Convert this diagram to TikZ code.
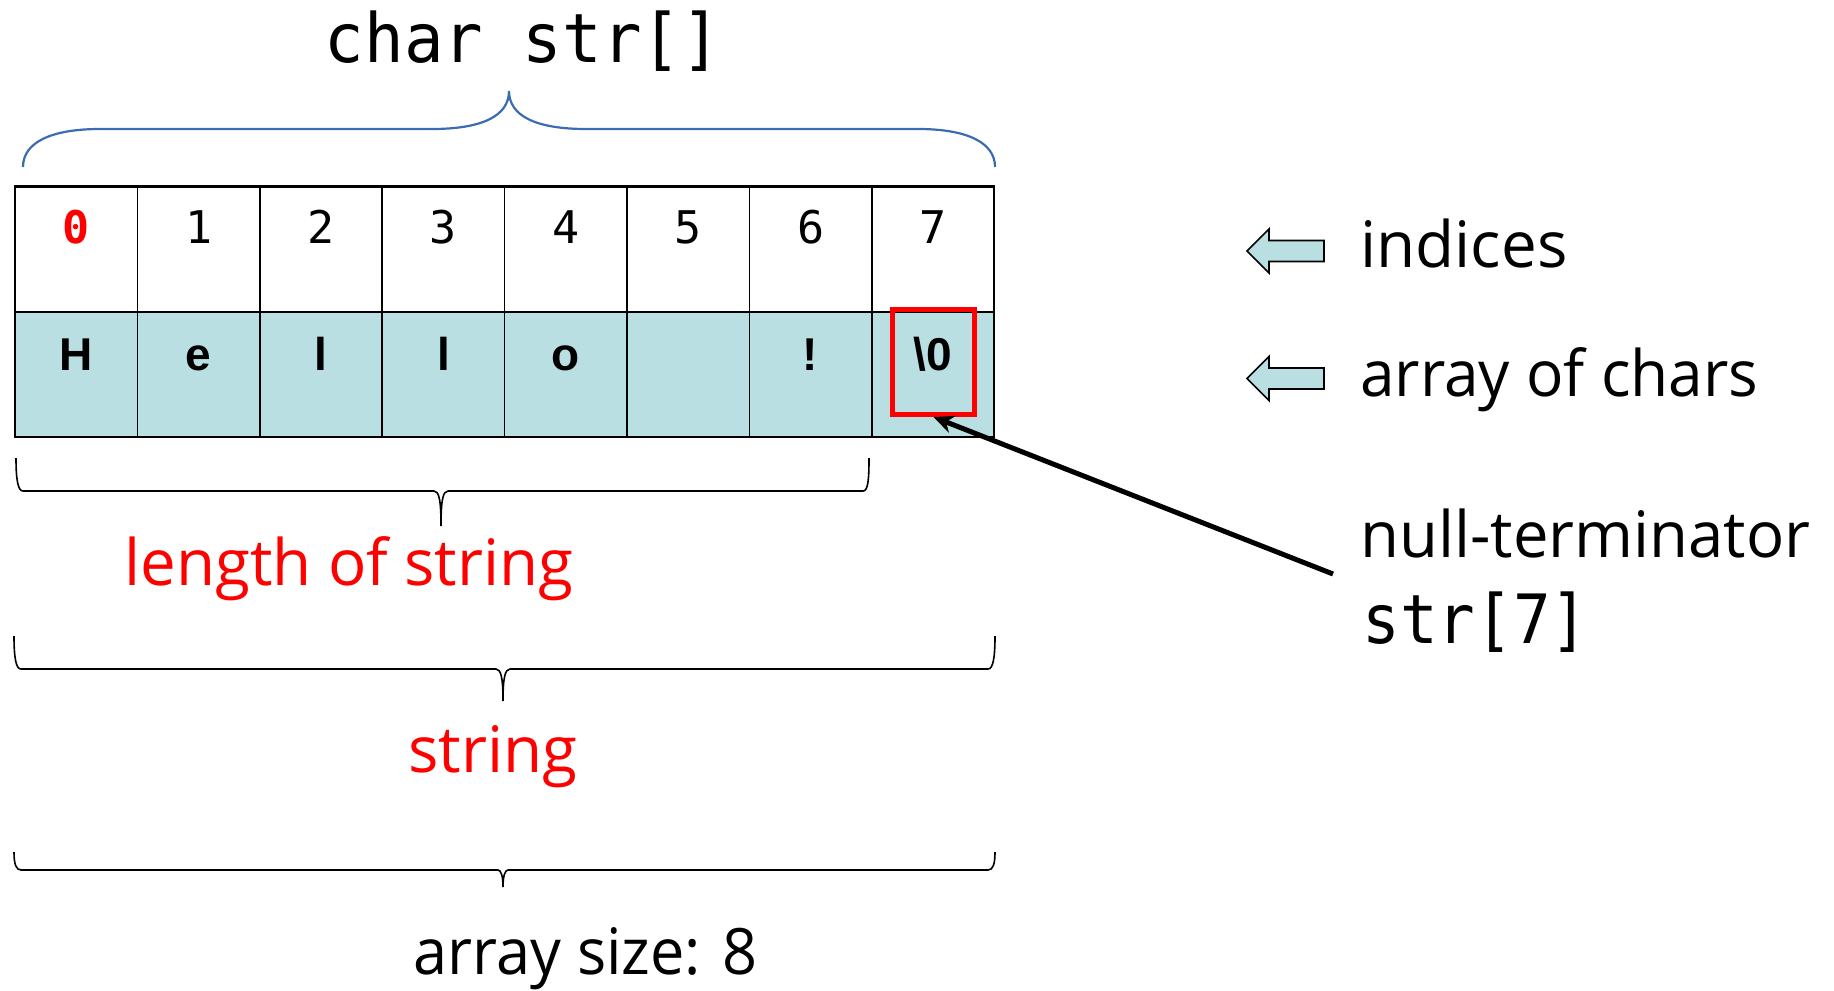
\documentclass[tikz,border=0pt]{standalone}
\usepackage{fontspec}
\usepackage{graphicx}
\usetikzlibrary{arrows.meta}
\setmainfont{Open Sans}
\newfontfamily\codefont{DejaVu Sans Mono}
\newfontfamily\cellfont{Liberation Sans}
\definecolor{cellblue}{RGB}{186,223,227}
\definecolor{braceblue}{RGB}{59,108,178}
\definecolor{hlred}{RGB}{255,0,0}
% one drawing unit = 0.5pt
\newlength{\pxunit}\setlength{\pxunit}{0.5pt}
% set a text to a given width, keeping its natural height
\newcommand{\fitwidth}[2]{\resizebox{#1\pxunit}{\height}{#2}}

\tikzset{
  cellbox/.style={draw=black, line width=0.8pt, rectangle, inner sep=0pt,
    minimum width=61.2pt, minimum height=62.5pt},
  charcell/.style={cellbox, fill=cellblue},
  idxtext/.style={inner sep=0pt, anchor=base,
    font=\codefont\fontsize{22.5pt}{26pt}\selectfont},
  chartext/.style={inner sep=0pt, anchor=base,
    font=\cellfont\bfseries\fontsize{23pt}{27pt}\selectfont},
  lbl/.style={inner sep=0pt, anchor=base west,
    font=\fontsize{32pt}{38pt}\selectfont},
  redlbl/.style={lbl, text=hlred},
  codelbl/.style={inner sep=0pt, anchor=base west,
    font=\codefont\fontsize{34pt}{40pt}\selectfont},
  brace/.style={draw=black, line width=0.8pt},
  topbrace/.style={draw=braceblue, line width=1.1pt},
  markbox/.style={draw=hlred, line width=2.5pt, rectangle, inner sep=0pt,
    minimum width=41pt, minimum height=52.5pt},
  pointer/.style={draw=black, line width=2.5pt,
    -{Stealth[length=10pt, width=9pt]}},
  blockarrow/.pic={
    \filldraw[fill=cellblue, draw=black, line width=0.8pt]
      (0,0) -- (22,-22) -- (22,-10.5) -- (77,-10.5) -- (77,10.5)
      -- (22,10.5) -- (22,22) -- cycle;
  }
}

\begin{document}
\begin{tikzpicture}[x=0.5pt, y=-0.5pt]
\useasboundingbox (0,0) rectangle (1834,990);

% declaration above the array
\node[codelbl, anchor=base] (decl) at (523,63) {\fitwidth{396}{char str[]}};
\draw[topbrace] (23,167) .. controls (23,142) and (52,129) .. (100,129)
  -- (432,129) .. controls (482,129) and (509,116) .. (509,91)
  .. controls (509,116) and (536,129) .. (586,129)
  -- (918,129) .. controls (966,129) and (995,142) .. (995,167);

% the array cells: indices on top, characters below
\foreach \i in {0,...,7} {
  \node[cellbox]  (idx\i) at ({76.2+122.4*\i},249.5) {};
  \node[charcell] (chr\i) at ({76.2+122.4*\i},374.5) {};
}
\draw[line width=1.5pt] (idx0.north west) -- (idx7.north east);

\node[idxtext, text=hlred, font=\codefont\bfseries\fontsize{22.5pt}{26pt}\selectfont]
  (n0) at (76.2,243) {0};
\foreach \i in {1,...,7} {
  \node[idxtext] (n\i) at ({76.2+122.4*\i},243) {\i};
}

\foreach \i/\c in {0/H,1/e,2/l,3/l,4/o,6/!} {
  \node[chartext] (c\i) at ({76.2+122.4*\i},370) {\c};
}
\node[chartext] (c7) at (933,370) {\textbackslash 0};

% highlight of the terminator and its pointer
\node[markbox] (nullbox) at (933.5,362) {};
\coordinate (ptrtail) at (1333,574);
\draw[pointer] (ptrtail) -- (nullbox.south);

% legend on the right
\pic at (1247,251) {blockarrow};
\pic at (1247,378.5) {blockarrow};
\node[lbl] (indices) at (1360,267) {\fitwidth{207}{indices}};
\node[lbl] (arrchars) at (1360,396) {\fitwidth{398}{array of chars}};
\node[lbl] (nullterm) at (1360,557) {\fitwidth{450}{null-terminator}};
\node[codelbl] (str7) at (1362,643) {\fitwidth{226}{str[7]}};

% braces below the array
\draw[brace] (16,458) .. controls (16,480) and (18,491) .. (23,491)
  -- (434,491) .. controls (439,491) and (441,500) .. (441,526)
  .. controls (441,500) and (443,491) .. (448,491)
  -- (863,491) .. controls (868,491) and (869,480) .. (869,458);
\node[redlbl] (lenlbl) at (124,585) {\fitwidth{449}{length of string}};

\draw[brace] (14,636) .. controls (14,658) and (16,669) .. (21,669)
  -- (496,669) .. controls (501,669) and (503,678) .. (503,701)
  .. controls (503,678) and (505,669) .. (510,669)
  -- (988,669) .. controls (993,669) and (995,658) .. (995,636);
\node[redlbl] (strlbl) at (408,772) {\fitwidth{169}{string}};

\draw[brace] (14,852) .. controls (14,864) and (16,870) .. (21,870)
  -- (498,870) .. controls (501,870) and (503,876) .. (503,887)
  .. controls (503,876) and (505,870) .. (508,870)
  -- (988,870) .. controls (993,870) and (995,864) .. (995,852);
\node[lbl] (sizelbl) at (413,974) {\fitwidth{344}{array size: 8}};
\end{tikzpicture}
\end{document}
